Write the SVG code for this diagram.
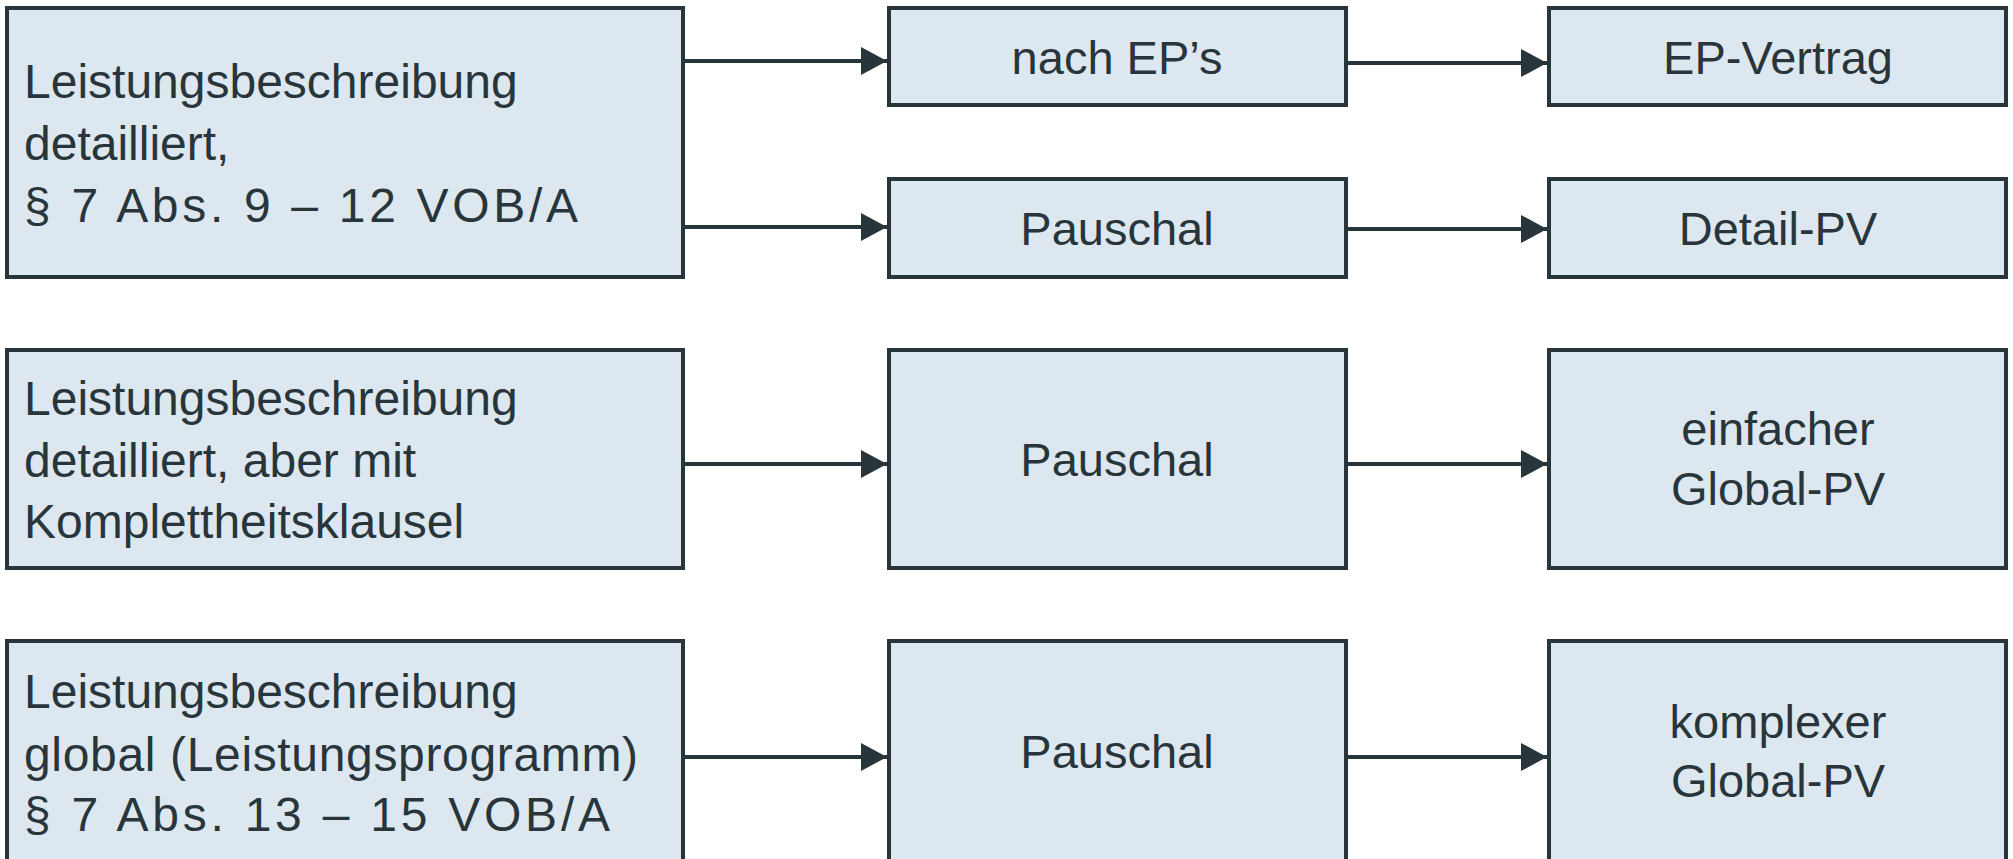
<svg xmlns="http://www.w3.org/2000/svg" width="2013" height="859" viewBox="0 0 2013 859">
  <defs>
    <marker id="arrow" viewBox="0 0 26 28" refX="26" refY="14" markerWidth="26" markerHeight="28" markerUnits="userSpaceOnUse" orient="auto">
      <path d="M0,0 L26,14 L0,28 Z" fill="#28363b"/>
    </marker>
    <style>
      .box { fill: #dde7ef; stroke: #28363b; stroke-width: 4; }
      .lbl { font-family: "Liberation Sans", Arial, sans-serif; font-size: 47px; fill: #28363b; }
      .lft { font-size: 48px; }
      .mid { text-anchor: middle; }
      .edge { stroke: #28363b; stroke-width: 4; fill: none; marker-end: url(#arrow); }
    </style>
  </defs>
  <rect width="2013" height="859" fill="#ffffff"/>

  <!-- row 1 -->
  <g id="lb-detailliert">
    <rect class="box" x="7" y="8" width="676" height="269"/>
    <text class="lbl lft" x="24" y="98">Leistungsbeschreibung</text>
    <text class="lbl lft" x="24" y="160">detailliert,</text>
    <text class="lbl lft" x="24" y="222" textLength="554">§ 7 Abs. 9 – 12 VOB/A</text>
  </g>
  <g id="nach-ep">
    <rect class="box" x="889" y="8" width="457" height="97"/>
    <text class="lbl mid" x="1117" y="74">nach EP’s</text>
  </g>
  <g id="ep-vertrag">
    <rect class="box" x="1549" y="8" width="457" height="97"/>
    <text class="lbl mid" x="1778" y="74">EP-Vertrag</text>
  </g>
  <g id="pauschal-1">
    <rect class="box" x="889" y="179" width="457" height="98"/>
    <text class="lbl mid" x="1117" y="245">Pauschal</text>
  </g>
  <g id="detail-pv">
    <rect class="box" x="1549" y="179" width="457" height="98"/>
    <text class="lbl mid" x="1778" y="245">Detail-PV</text>
  </g>

  <!-- row 2 -->
  <g id="lb-komplettheit">
    <rect class="box" x="7" y="350" width="676" height="218"/>
    <text class="lbl lft" x="24" y="415">Leistungsbeschreibung</text>
    <text class="lbl lft" x="24" y="477">detailliert, aber mit</text>
    <text class="lbl lft" x="24" y="538">Komplettheitsklausel</text>
  </g>
  <g id="pauschal-2">
    <rect class="box" x="889" y="350" width="457" height="218"/>
    <text class="lbl mid" x="1117" y="476">Pauschal</text>
  </g>
  <g id="einfacher-global-pv">
    <rect class="box" x="1549" y="350" width="457" height="218"/>
    <text class="lbl mid" x="1778" y="445">einfacher</text>
    <text class="lbl mid" x="1778" y="505">Global-PV</text>
  </g>

  <!-- row 3 -->
  <g id="lb-global">
    <rect class="box" x="7" y="641" width="676" height="240"/>
    <text class="lbl lft" x="24" y="708">Leistungsbeschreibung</text>
    <text class="lbl lft" x="24" y="771" textLength="614">global (Leistungsprogramm)</text>
    <text class="lbl lft" x="24" y="831" textLength="586">§ 7 Abs. 13 – 15 VOB/A</text>
  </g>
  <g id="pauschal-3">
    <rect class="box" x="889" y="641" width="457" height="240"/>
    <text class="lbl mid" x="1117" y="768">Pauschal</text>
  </g>
  <g id="komplexer-global-pv">
    <rect class="box" x="1549" y="641" width="457" height="240"/>
    <text class="lbl mid" x="1778" y="738">komplexer</text>
    <text class="lbl mid" x="1778" y="797">Global-PV</text>
  </g>

  <g id="connectors">
    <line class="edge" x1="685" y1="61" x2="887" y2="61"/>
    <line class="edge" x1="685" y1="227" x2="887" y2="227"/>
    <line class="edge" x1="1348" y1="63" x2="1547" y2="63"/>
    <line class="edge" x1="1348" y1="229" x2="1547" y2="229"/>
    <line class="edge" x1="685" y1="464" x2="887" y2="464"/>
    <line class="edge" x1="1348" y1="464" x2="1547" y2="464"/>
    <line class="edge" x1="685" y1="757" x2="887" y2="757"/>
    <line class="edge" x1="1348" y1="757" x2="1547" y2="757"/>
  </g>
</svg>
